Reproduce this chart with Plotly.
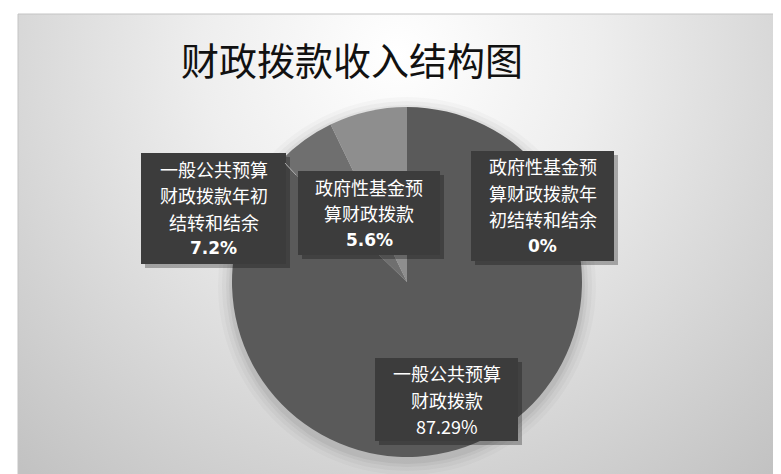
import base64
import plotly.graph_objects as go

# ---- data ----
title_text = "财政拨款收入结构图"
categories = [
    "一般公共预算财政拨款",
    "政府性基金预算财政拨款",
    "一般公共预算财政拨款年初结转和结余",
    "政府性基金预算财政拨款年初结转和结余",
]
values = [87.29, 5.6, 7.2, 0]

# ---- style ----
W, H = 781, 474
slice_colors = ["#5a5a5a", "#6f6f6f", "#8e8e8e", "#a0a0a0"]
# label box pixel rectangles (x0, y0, x1, y1), one per category
boxes = [
    (367, 350, 510, 433),
    (290, 163, 432, 247),
    (133, 145, 278, 256),
    (463, 143, 606, 253),
]
cx, cy, R = 399, 274, 175
LINE_H = 26.5
FONT_SIZE = 18


def px(x):
    return x / W


def py(y):
    return 1 - y / H


def chunks(s, n=6):
    return [s[i:i + n] for i in range(0, len(s), n)]


# gradient background as an SVG image
svg = f'''<svg xmlns="http://www.w3.org/2000/svg" width="771" height="468" viewBox="0 0 771 468">
<defs><radialGradient id="g" gradientUnits="userSpaceOnUse" cx="380" cy="40" r="560">
<stop offset="0" stop-color="#ffffff"/><stop offset="0.35" stop-color="#eeeeee"/>
<stop offset="1" stop-color="#c2c2c2"/></radialGradient></defs>
<rect width="771" height="468" fill="url(#g)"/></svg>'''
svg_uri = "data:image/svg+xml;base64," + base64.b64encode(svg.encode()).decode()

fig = go.Figure()
fig.add_trace(go.Pie(
    labels=categories,
    values=values,
    sort=False,
    direction="clockwise",
    rotation=0,
    textinfo="none",
    hoverinfo="label+percent",
    marker=dict(colors=slice_colors, line=dict(width=0)),
    domain=dict(x=[px(cx - R), px(cx + R)], y=[py(cy + R), py(cy - R)]),
    showlegend=False,
))

shapes = []
# chart area frame
shapes.append(dict(type="rect", xref="paper", yref="paper",
                   x0=px(10), x1=px(781), y0=py(474), y1=py(6),
                   line=dict(color="#c4c4c4", width=1), layer="below"))
# soft shadow around pie
for dr, op in [(14, 0.025), (10, 0.03), (6, 0.04), (3, 0.05)]:
    shapes.append(dict(type="circle", xref="paper", yref="paper",
                       x0=px(cx - R - dr), x1=px(cx + R + dr),
                       y0=py(cy + 4 + R + dr), y1=py(cy + 4 - R - dr),
                       fillcolor=f"rgba(0,0,0,{op})", line=dict(width=0), layer="below"))

annotations = []
for i, (cat, v) in enumerate(zip(categories, values)):
    x0, y0, x1, y1 = boxes[i]
    # drop shadow
    shapes.append(dict(type="rect", xref="paper", yref="paper",
                       x0=px(x0 + 4), x1=px(x1 + 4), y0=py(y1 + 4), y1=py(y0 + 4),
                       fillcolor="rgba(0,0,0,0.28)", line=dict(width=0), layer="above"))
    # box
    shapes.append(dict(type="rect", xref="paper", yref="paper",
                       x0=px(x0), x1=px(x1), y0=py(y1), y1=py(y0),
                       fillcolor="#3c3c3c", line=dict(width=0), layer="above"))
    pct = f"{v:g}%"
    lines = chunks(cat) + [pct if i == 0 else f"<b>{pct}</b>"]
    n = len(lines)
    mid = (y0 + y1) / 2
    for k, ln in enumerate(lines):
        yy = mid + (k - (n - 1) / 2) * LINE_H
        is_pct = k == n - 1
        annotations.append(dict(
            xref="paper", yref="paper",
            x=px((x0 + x1) / 2), y=py(yy),
            xanchor="center", yanchor="middle",
            text=ln, showarrow=False,
            font=dict(family=("Verdana, DejaVu Sans" if (is_pct and i != 0) else "Noto Sans CJK SC"),
                      size=(17 if (is_pct and i != 0) else FONT_SIZE), color="#ffffff"),
        ))

# leader line from the 7.2% box
shapes.append(dict(type="line", xref="paper", yref="paper",
                   x0=px(277), y0=py(155), x1=px(288), y1=py(167),
                   line=dict(color="#a8a8a8", width=1), layer="above"))

annotations.append(dict(
    xref="paper", yref="paper", x=px(344), y=py(50),
    xanchor="center", yanchor="middle", showarrow=False,
    text=title_text,
    font=dict(family="Noto Sans CJK SC", size=38, color="#111111"),
))

fig.update_layout(
    width=W, height=H,
    margin=dict(l=0, r=0, t=0, b=0),
    paper_bgcolor="#ffffff",
    plot_bgcolor="#ffffff",
    images=[dict(source=svg_uri, xref="paper", yref="paper",
                 x=px(10), y=py(6), sizex=px(771), sizey=468 / H,
                 xanchor="left", yanchor="top", sizing="stretch", layer="below")],
    shapes=shapes,
    annotations=annotations,
)

fig.write_html("out.html")
